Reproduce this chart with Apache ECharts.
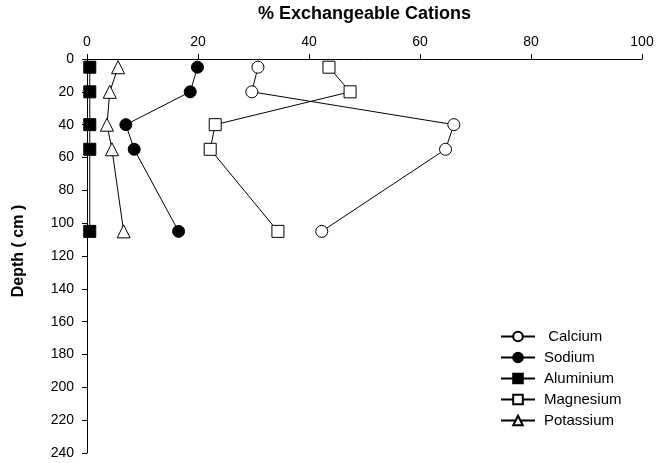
<!DOCTYPE html>
<html><head><meta charset="utf-8">
<script src="https://cdn.jsdelivr.net/npm/echarts@6/dist/echarts.min.js"></script>
<style>html,body{margin:0;padding:0;background:#fff}#c{width:657px;height:463px}</style>
</head><body><div id="c"></div>
<script>
const depths = [5, 20, 40, 55, 105];
const calcium = [30.8, 29.7, 66.1, 64.6, 42.3];
const sodium = [19.9, 18.6, 7.0, 8.5, 16.5];
const aluminium = [0.5, 0.5, 0.5, 0.5, 0.5];
const magnesium = [43.6, 47.4, 23.1, 22.2, 34.4];
const potassium = [5.6, 4.1, 3.6, 4.5, 6.6];

const FONT = 'Liberation Sans, Arial, sans-serif';
function pairs(vals){ return vals.map((v,i)=>[v, depths[i]]); }
function mk(name, vals, symbol, fill, size){
  return {
    name, type:'line', data: pairs(vals), symbol, symbolSize: size,
    showAllSymbol: true,
    lineStyle:{color:'#000', width:1},
    itemStyle:{color: fill, borderColor:'#000', borderWidth:1, opacity:1},
    emphasis:{disabled:true}, animation:false, z: 3
  };
}
const chart = echarts.init(document.getElementById('c'));
chart.setOption({
  animation:false,
  backgroundColor:'#fff',
  textStyle:{fontFamily: FONT},
  grid:{left:87, right:15, top:53, bottom:10, containLabel:false},
  xAxis:{
    type:'value', position:'top', min:0, max:100, interval:20,
    name:'% Exchangeable Cations', nameLocation:'middle', nameGap:36,
    nameTextStyle:{fontFamily:FONT, fontWeight:'bold', fontSize:18, color:'#000'},
    axisLine:{show:true, lineStyle:{color:'#000', width:1}},
    axisTick:{show:true, length:5, lineStyle:{color:'#000'}},
    axisLabel:{fontFamily:FONT, fontSize:14, color:'#000', margin:10},
    splitLine:{show:false}
  },
  yAxis:{
    type:'value', inverse:true, min:0, max:240, interval:20,
    name:'Depth ( cm )', nameLocation:'middle', nameGap:60, nameRotate:90,
    nameTextStyle:{fontFamily:FONT, fontWeight:'bold', fontSize:16, color:'#000', padding:[0,0,0,10]},
    axisLine:{show:true, lineStyle:{color:'#000', width:1}},
    axisTick:{show:true, length:5, lineStyle:{color:'#000'}},
    axisLabel:{fontFamily:FONT, fontSize:14, color:'#000', margin:13},
    splitLine:{show:false}
  },
  legend:{
    orient:'vertical', left:495, top:324, itemWidth:34, itemHeight:12, itemGap:6,
    textStyle:{fontFamily:FONT, fontSize:15, color:'#000', padding:[0,0,0,4]},
    data:['Calcium','Sodium','Aluminium','Magnesium','Potassium'],
    formatter: n => n === 'Calcium' ? ' ' + n : n
  },
  series:[
    mk('Calcium', calcium, 'circle', '#fff', 12),
    mk('Sodium', sodium, 'circle', '#000', 12),
    mk('Aluminium', aluminium, 'rect', '#000', 12),
    mk('Magnesium', magnesium, 'rect', '#fff', 12),
    mk('Potassium', potassium, 'triangle', '#fff', 13)
  ]
});
</script>
</body></html>
